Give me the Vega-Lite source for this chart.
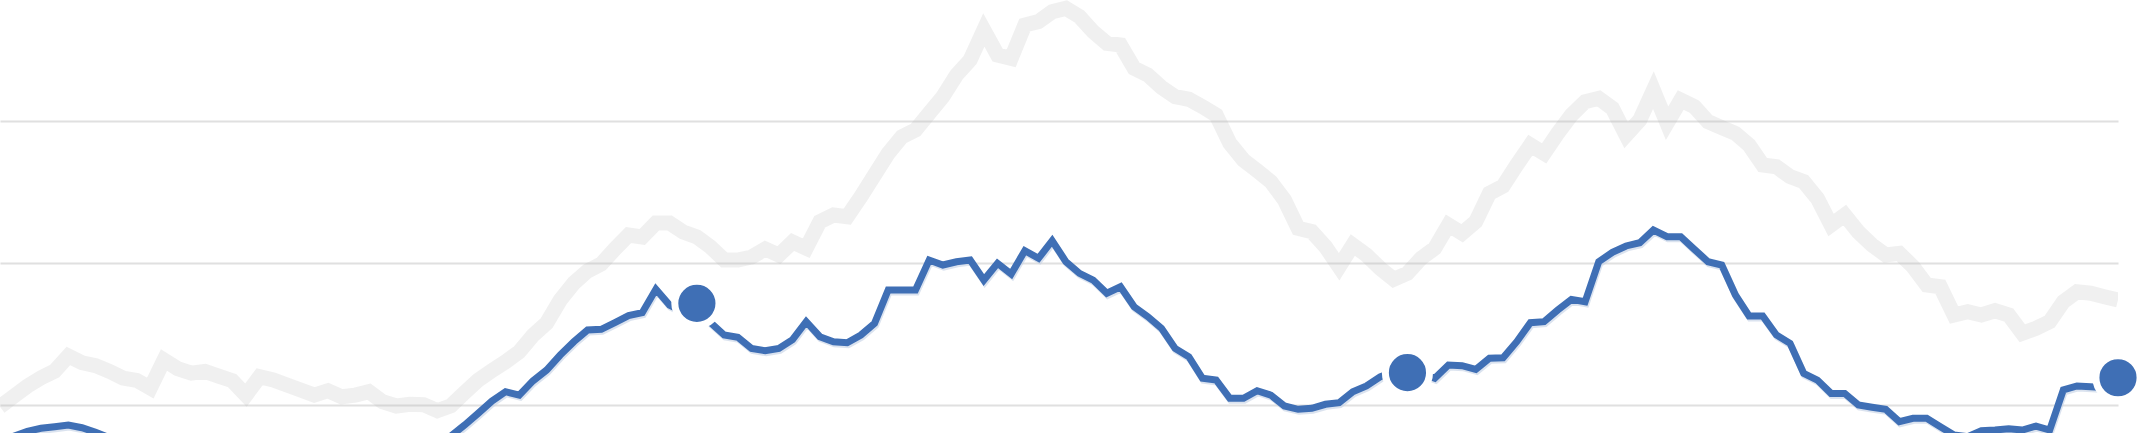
{
  "$schema": "https://vega.github.io/schema/vega-lite/v6.json",
  "width": 2118,
  "height": 433,
  "padding": {"left": 0, "top": 0, "right": 19, "bottom": 0},
  "autosize": {"type": "none"},
  "background": "white",
  "config": {
    "view": {"stroke": null},
    "axis": {"labels": false, "ticks": false, "domain": false, "title": null},
    "axisY": {"grid": true, "gridColor": "#e0e0e0", "gridWidth": 2}
  },
  "data": {"values": [
    {"i":0,"grey":98.8,"blue":74},{"i":1,"grey":106.1,"blue":78},{"i":2,"grey":113.3,"blue":81.5},{"i":3,"grey":119.1,"blue":83.6},{"i":4,"grey":123.9,"blue":84.7},
    {"i":5,"grey":134.5,"blue":85.9},{"i":6,"grey":129.8,"blue":84.0},{"i":7,"grey":127.7,"blue":80.8},{"i":8,"grey":123.7,"blue":77},{"i":9,"grey":119.0,"blue":75},
    {"i":10,"grey":117.4,"blue":73},{"i":11,"grey":112.0,"blue":72},{"i":12,"grey":131.7,"blue":73},{"i":13,"grey":125.6,"blue":72},{"i":14,"grey":122.5,"blue":70},
    {"i":15,"grey":123.7,"blue":71},{"i":16,"grey":120.4,"blue":70},{"i":17,"grey":117.1,"blue":68},{"i":18,"grey":107.0,"blue":67},{"i":19,"grey":119.9,"blue":68},
    {"i":20,"grey":117.6,"blue":67},{"i":21,"grey":114.1,"blue":66},{"i":22,"grey":110.6,"blue":65},{"i":23,"grey":107.0,"blue":66},{"i":24,"grey":110.1,"blue":65},
    {"i":25,"grey":105.8,"blue":64},{"i":26,"grey":107.0,"blue":63},{"i":27,"grey":109.4,"blue":64},{"i":28,"grey":102.3,"blue":63},{"i":29,"grey":99.3,"blue":62},
    {"i":30,"grey":100.5,"blue":64},{"i":31,"grey":100.2,"blue":67},{"i":32,"grey":96.0,"blue":72},{"i":33,"grey":99.5,"blue":78.2},{"i":34,"grey":108.7,"blue":85.9},
    {"i":35,"grey":117.6,"blue":94.2},{"i":36,"grey":124.2,"blue":102.8},{"i":37,"grey":130.5,"blue":109.4},{"i":38,"grey":137.5,"blue":107.0},{"i":39,"grey":149.0,"blue":117.0},
    {"i":40,"grey":157.7,"blue":124.6},{"i":41,"grey":173.9,"blue":135.2},{"i":42,"grey":185.9,"blue":144.6},{"i":43,"grey":194.4,"blue":152.8},{"i":44,"grey":199.3,"blue":153.3},
    {"i":45,"grey":209.9,"blue":158.0},{"i":46,"grey":219.7,"blue":162.9},{"i":47,"grey":218.3,"blue":165.0},{"i":48,"grey":228.2,"blue":181.5},{"i":49,"grey":228.2,"blue":170.4},
    {"i":50,"grey":221.8,"blue":165.7},{"i":51,"grey":218.3,"blue":171.6},{"i":52,"grey":211.3,"blue":158.0},{"i":53,"grey":202.1,"blue":149.3},{"i":54,"grey":202.1,"blue":147.7},
    {"i":55,"grey":204.2,"blue":139.9},{"i":56,"grey":209.9,"blue":138.2},{"i":57,"grey":205.6,"blue":139.9},{"i":58,"grey":214.8,"blue":146.0},{"i":59,"grey":210.4,"blue":158.7},
    {"i":60,"grey":229.1,"blue":148.1},{"i":61,"grey":233.8,"blue":144.6},{"i":62,"grey":232.6,"blue":143.9},{"i":63,"grey":246.7,"blue":149.3},{"i":64,"grey":262.0,"blue":157.5},
    {"i":65,"grey":277.2,"blue":181.0},{"i":66,"grey":288.9,"blue":181.0},{"i":67,"grey":293.7,"blue":181.0},{"i":68,"grey":305.4,"blue":202.1},{"i":69,"grey":317.1,"blue":198.6},
    {"i":70,"grey":332.4,"blue":200.9},{"i":71,"grey":343.0,"blue":202.1},{"i":72,"grey":364.1,"blue":188.0},{"i":73,"grey":346.5,"blue":199.8},{"i":74,"grey":344.1,"blue":192.3},
    {"i":75,"grey":367.6,"blue":208.7},{"i":76,"grey":370.0,"blue":203.3},{"i":77,"grey":376.9,"blue":215.7},{"i":78,"grey":379.3,"blue":201.0},{"i":79,"grey":373.5,"blue":192.7},
    {"i":80,"grey":362.9,"blue":188.0},{"i":81,"grey":354.7,"blue":178.7},{"i":82,"grey":353.5,"blue":183.3},{"i":83,"grey":337.1,"blue":169.2},{"i":84,"grey":332.4,"blue":162.2},
    {"i":85,"grey":323.7,"blue":154.0},{"i":86,"grey":317.1,"blue":139.9},{"i":87,"grey":315.3,"blue":134.0},{"i":88,"grey":310.1,"blue":118.8},{"i":89,"grey":304.2,"blue":117.6},
    {"i":90,"grey":284.3,"blue":104.7},{"i":91,"grey":272.5,"blue":104.7},{"i":92,"grey":265.0,"blue":110.1},{"i":93,"grey":257.3,"blue":107.0},{"i":94,"grey":244.4,"blue":99.3},
    {"i":95,"grey":224.4,"blue":97.0},{"i":96,"grey":222.1,"blue":97.7},{"i":97,"grey":211.5,"blue":100.5},{"i":98,"grey":197.4,"blue":101.6},{"i":99,"grey":212.7,"blue":109.4},
    {"i":100,"grey":205.6,"blue":113.4},{"i":101,"grey":196.3,"blue":119.9},{"i":102,"grey":188.5,"blue":123.5},{"i":103,"grey":192.7,"blue":122.8},{"i":104,"grey":203.3,"blue":122.3},
    {"i":105,"grey":210.4,"blue":118.8},{"i":106,"grey":226.8,"blue":128.2},{"i":107,"grey":220.9,"blue":127.7},{"i":108,"grey":229.1,"blue":125.1},{"i":109,"grey":249.1,"blue":132.9},
    {"i":110,"grey":254.2,"blue":133.3},{"i":111,"grey":269.0,"blue":144.6},{"i":112,"grey":283.1,"blue":158.0},{"i":113,"grey":277.2,"blue":158.7},{"i":114,"grey":291.3,"blue":166.9},
    {"i":115,"grey":304.2,"blue":174.4},{"i":116,"grey":313.6,"blue":172.7},{"i":117,"grey":316.0,"blue":200.9},{"i":118,"grey":308.9,"blue":207.5},{"i":119,"grey":290.1,"blue":212.0},
    {"i":120,"grey":300.7,"blue":214.3},{"i":121,"grey":321.8,"blue":223.2},{"i":122,"grey":298.4,"blue":218.5},{"i":123,"grey":314.8,"blue":218.5},{"i":124,"grey":310.1,"blue":209.6},
    {"i":125,"grey":299.5,"blue":200.9},{"i":126,"grey":295.3,"blue":198.6},{"i":127,"grey":291.3,"blue":177.5},{"i":128,"grey":283.1,"blue":162.7},{"i":129,"grey":269.0,"blue":162.7},
    {"i":130,"grey":267.8,"blue":149.3},{"i":131,"grey":260.8,"blue":143.4},{"i":132,"grey":257.3,"blue":122.3},{"i":133,"grey":245.5,"blue":117.6},{"i":134,"grey":226.8,"blue":108.2},
    {"i":135,"grey":233.8,"blue":108.2},{"i":136,"grey":221.8,"blue":100.0},{"i":137,"grey":212.7,"blue":98.4},{"i":138,"grey":205.6,"blue":97.0},{"i":139,"grey":206.8,"blue":88.3},
    {"i":140,"grey":197.4,"blue":90.6},{"i":141,"grey":184.5,"blue":90.6},{"i":142,"grey":183.3,"blue":84.7},{"i":143,"grey":163.4,"blue":78.9},{"i":144,"grey":165.7,"blue":77.7},
    {"i":145,"grey":163.4,"blue":81.9},{"i":146,"grey":166.4,"blue":82.4},{"i":147,"grey":163.4,"blue":83.3},{"i":148,"grey":150.5,"blue":82.4},{"i":149,"grey":154.0,"blue":85.2},
    {"i":150,"grey":158.7,"blue":82.4},{"i":151,"grey":172.7,"blue":110.6},{"i":152,"grey":179.8,"blue":113.4},{"i":153,"grey":178.7,"blue":112.9},{"i":154,"grey":176.3,"blue":112.2},
    {"i":155,"grey":173.9,"blue":119.2}
  ]},
  "encoding": {
    "x": {"field": "i", "type": "quantitative", "scale": {"domain": [0, 155], "nice": false, "zero": false}, "axis": null}
  },
  "layer": [
    {
      "mark": {"type": "line", "color": "#b4b4b4", "stroke": "#b4b4b4", "strokeOpacity": 0.2, "strokeWidth": 15, "clip": true},
      "encoding": {
        "y": {"field": "grey", "type": "quantitative", "title": null,
              "scale": {"domain": [80.3, 385.2], "nice": false, "zero": false},
              "axis": {"values": [100, 200, 300], "grid": true, "labels": false, "ticks": false, "domain": false, "title": null}}
      }
    },
    {
      "mark": {"type": "line", "color": "#c3d0e4", "stroke": "#c3d0e4", "strokeOpacity": 0.6, "strokeWidth": 7, "xOffset": 1, "yOffset": 2, "clip": true},
      "encoding": {
        "y": {"field": "blue", "type": "quantitative", "title": null, "scale": {"domain": [80.3, 385.2], "nice": false, "zero": false}}
      }
    },
    {
      "mark": {"type": "line", "color": "#3f6fb5", "stroke": "#3f6fb5", "strokeWidth": 7, "clip": true},
      "encoding": {
        "y": {"field": "blue", "type": "quantitative", "title": null, "scale": {"domain": [80.3, 385.2], "nice": false, "zero": false}}
      }
    },
    {
      "transform": [{"filter": "datum.i == 51 || datum.i == 103 || datum.i == 155"}],
      "mark": {"type": "circle", "color": "#3f6fb5", "fill": "#3f6fb5", "fillOpacity": 1, "opacity": 1, "stroke": "white", "strokeWidth": 7, "size": 1950},
      "encoding": {
        "y": {"field": "blue", "type": "quantitative", "title": null, "scale": {"domain": [80.3, 385.2], "nice": false, "zero": false}}
      }
    }
  ]
}
